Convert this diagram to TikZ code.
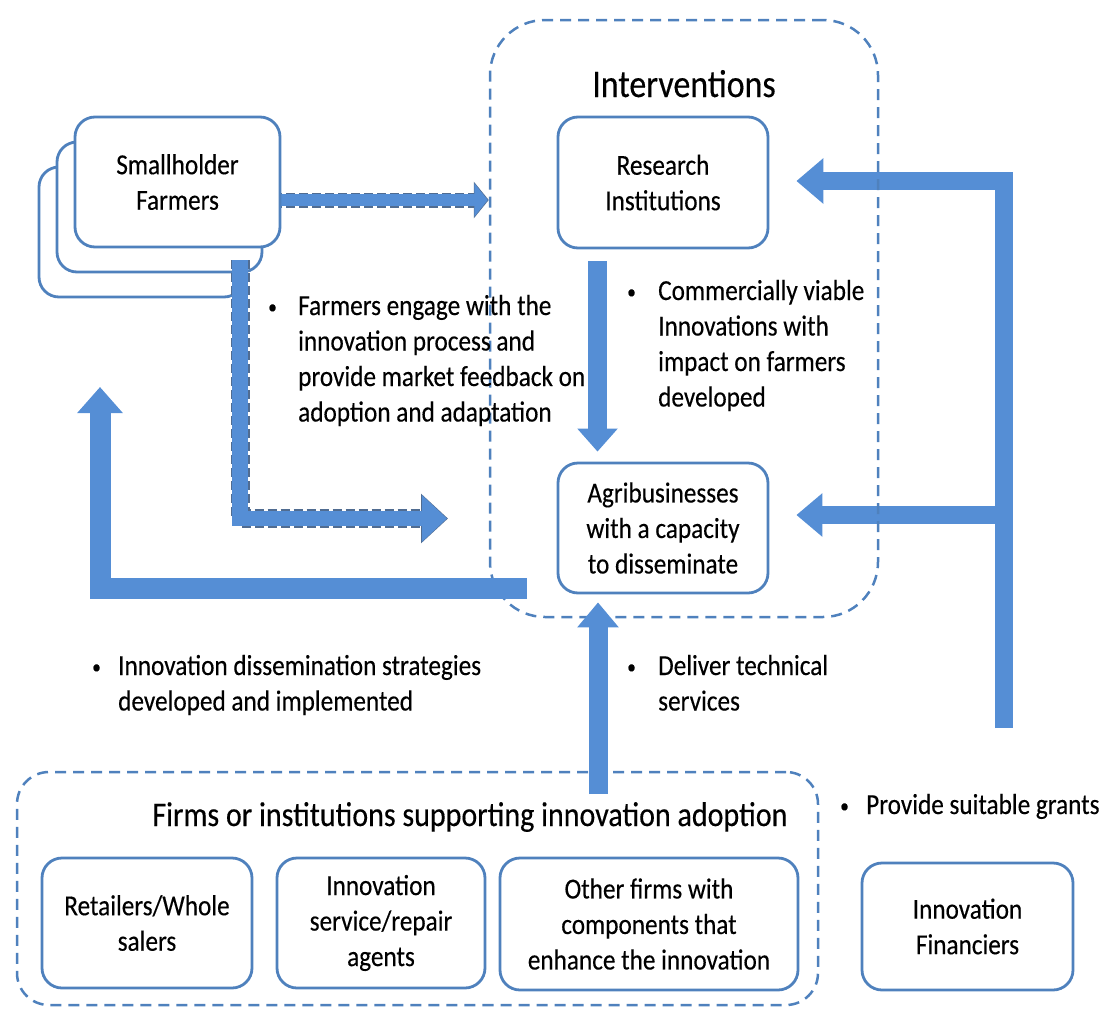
\documentclass[tikz,border=0pt]{standalone}
\usepackage{fontspec}
\setmainfont{Carlito}[FakeStretch=0.87,FakeBold=0.3]
\usetikzlibrary{arrows.meta}
\definecolor{arrowblue}{RGB}{85,142,213}
\definecolor{boxblue}{RGB}{79,129,189}
\definecolor{dashdark}{RGB}{80,108,145}
\newcommand{\bodyfont}{\fontsize{29}{35.5}\selectfont}
\newcommand{\smallbul}{{\fontsize{20}{20}\selectfont\raisebox{1.5pt}{\textbullet}}}
\pgfdeclarelayer{background}
\pgfsetlayers{background,main}
\tikzset{
  box/.style={draw=boxblue, line width=2.8pt, rounded corners=20pt, fill=white,
    align=center, inner sep=0pt, font=\bodyfont},
  group/.style={draw=boxblue, line width=2.5pt, dash pattern=on 11pt off 7pt,
    rounded corners=#1, inner sep=0pt},
  barrow/.style n args={3}{draw=arrowblue, line width=#1, line join=miter,
    -{Triangle[width=#2,length=#3]}},
  dashunder/.style n args={3}{draw=dashdark, line width=#1, line join=miter,
    dash pattern=on 9pt off 4pt, -{Triangle[width=#2,length=#3]}},
  txt/.style={anchor=base west, inner sep=0pt, font=\bodyfont},
}
\begin{document}
\begin{tikzpicture}[x=1pt,y=-1pt]
\useasboundingbox (0,0) rectangle (1104,1010);
% group frames
\node[group=55pt, minimum width=388pt, minimum height=597pt] (interv) at (684,318.5) {};
\node[group=32pt, minimum width=801pt, minimum height=233pt] (firms) at (417.5,888.5) {};
% boxes
\node[box, minimum width=205pt, minimum height=130pt] (farm3) at (141.5,232) {};
\node[box, minimum width=205pt, minimum height=130pt] (farm2) at (159.5,207) {};
\node[box, minimum width=205pt, minimum height=130pt] (farm1) at (177.5,182) {Smallholder\\Farmers};
\node[box, minimum width=210pt, minimum height=131pt] (research) at (663,182.5) {Research\\Institutions};
\node[box, minimum width=210pt, minimum height=130pt] (agri) at (663,528) {Agribusinesses\\with a capacity\\to disseminate};
\node[box, minimum width=210pt, minimum height=130pt] (retail) at (147,923) {Retailers/Whole\\salers};
\node[box, minimum width=208pt, minimum height=130pt] (service) at (381,923) {Innovation\\service/repair\\agents};
\node[box, minimum width=298pt, minimum height=132pt] (other) at (649,924) {Other firms with\\components that\\enhance the innovation};
\node[box, minimum width=211pt, minimum height=127pt] (fin) at (967.5,926.5) {Innovation\\Financiers};
% coordinates
\coordinate (fa1) at (260,200);
\coordinate (fl1) at (240,260);
\coordinate (fl2) at (240,518.5);
\coordinate (fl3) at (448,518.5);
\coordinate (rax) at (597.5,0);
\coordinate (upx) at (598,0);
\coordinate (up1) at (598,794);
\coordinate (la1) at (527,588.5);
\coordinate (la2) at (100,588.5);
\coordinate (la3) at (100,387);
\coordinate (f1) at (1004,728);
\coordinate (f2) at (1004,181);
\coordinate (f3) at (1004,515);
% background arrows
\begin{pgfonlayer}{background}
\draw[dashunder={15pt}{36pt}{15pt}] (fa1) -- (interv.west |- fa1);
\draw[barrow={11.5pt}{33pt}{13.5pt}, shorten >=1pt] (fa1) -- (interv.west |- fa1);
\draw[barrow={18pt}{44pt}{27pt}, shorten >=27pt] (f1) -- (f2) -- (research.east |- f2);
\draw[barrow={18pt}{42pt}{26pt}, shorten >=27pt] (f3) -- (agri.east |- f3);
\end{pgfonlayer}
% arrows
\draw[dashunder={19pt}{48pt}{27pt}] (fl1) -- (fl2) -- (fl3);
\draw[barrow={15.5pt}{45pt}{25pt}, shorten >=1pt] (fl1) -- (fl2) -- (fl3);
\draw[barrow={19pt}{39pt}{23pt}, shorten <=12pt, shorten >=10pt] (research.south -| rax) -- (agri.north -| rax);
\draw[barrow={21pt}{44pt}{26pt}] (la1) -- (la2) -- (la3);
\draw[barrow={19pt}{40pt}{25pt}, shorten >=8pt] (up1) -- (agri.south -| upx);
% titles
\node[anchor=base, inner sep=0pt, font=\fontsize{39}{47}\selectfont] (t1) at (684,97) {Interventions};
\node[anchor=base, inner sep=0pt, font=\fontsize{34.5}{41}\selectfont] (t2) at (470,826) {Firms or institutions supporting innovation adoption};
% labels
\node[txt] (lab1) at (268,315) {\begin{tabular}[t]{@{}p{30pt}@{}l@{}}\smallbul & Farmers engage with the\\ & innovation process and\\ & provide market feedback on\\ & adoption and adaptation\end{tabular}};
\node[txt] (lab2) at (627,300) {\begin{tabular}[t]{@{}p{31pt}@{}l@{}}\smallbul & Commercially viable\\ & Innovations with\\ & impact on farmers\\ & developed\end{tabular}};
\node[txt] (lab3) at (92,675) {\begin{tabular}[t]{@{}p{26pt}@{}l@{}}\smallbul & Innovation dissemination strategies\\ & developed and implemented\end{tabular}};
\node[txt] (lab4) at (627,675) {\begin{tabular}[t]{@{}p{31pt}@{}l@{}}\smallbul & Deliver technical\\ & services\end{tabular}};
\node[txt] (lab5) at (840,814) {\begin{tabular}[t]{@{}p{26pt}@{}l@{}}\smallbul & Provide suitable grants\end{tabular}};
\end{tikzpicture}
\end{document}
